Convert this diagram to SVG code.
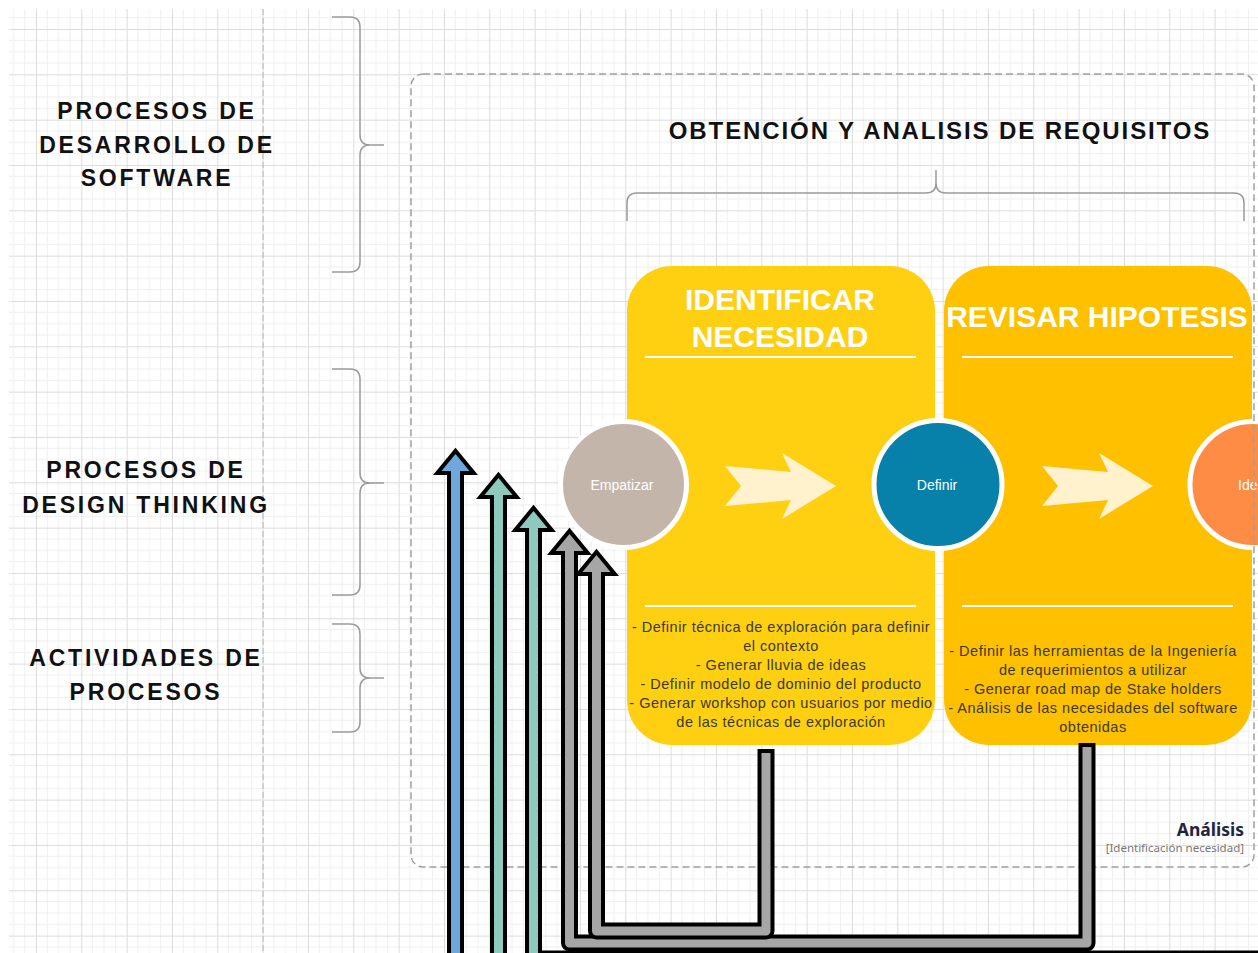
<svg xmlns="http://www.w3.org/2000/svg" width="1258" height="953" viewBox="0 0 1258 953">
<defs>
<pattern id="grid" patternUnits="userSpaceOnUse" x="36" y="29" width="45.33" height="45.33">
<path d="M11.33,0V45.33M22.67,0V45.33M34,0V45.33M0,11.33H45.33M0,22.67H45.33M0,34H45.33" stroke="#efefef" stroke-width="1" fill="none"/>
<path d="M0.5,0V45.33M0,0.5H45.33" stroke="#dcdcdc" stroke-width="1" fill="none"/>
</pattern>
<style>
.hdr{font-family:"Liberation Sans",Arial,sans-serif;font-weight:bold;font-size:23px;letter-spacing:2.8px;fill:#111;text-anchor:middle}
.ttl{font-family:"Liberation Sans",Arial,sans-serif;font-weight:bold;font-size:30px;fill:#fff;text-anchor:middle}
.act{font-family:"Liberation Sans",Arial,sans-serif;font-size:14.5px;letter-spacing:0.5px;fill:#3a3a2a;text-anchor:middle}
.circ{font-family:"Liberation Sans",Arial,sans-serif;font-size:14px;fill:#fff;text-anchor:middle}
.brace{fill:none;stroke:#9a9a9a;stroke-width:1.5}
.sep{stroke:#fff;stroke-width:2}
.chev{fill:#fff2cc}
.blk{fill:none;stroke:#000;stroke-width:17;stroke-linejoin:round}
.hb{fill:#000;stroke:#000;stroke-width:8;stroke-linejoin:miter}
.col{fill:none;stroke-width:9;stroke-linejoin:round}
</style>
</defs>
<rect x="0" y="0" width="1258" height="953" fill="#fff"/>
<rect x="9" y="9" width="1249" height="944" fill="url(#grid)"/>
<line x1="263" y1="9" x2="263" y2="953" stroke="#b5b5b5" stroke-width="1" stroke-dasharray="6 3"/>

<g id="hdr-desarrollo">
<text class="hdr" x="157" y="119">PROCESOS DE</text>
<text class="hdr" x="157" y="153">DESARROLLO DE</text>
<text class="hdr" x="157" y="186">SOFTWARE</text>
<path class="brace" d="M332,17H350Q360,17 360,27V135Q360,145 370,145H384M370,145Q360,145 360,155V262Q360,272 350,272H332"/>
</g>
<g id="hdr-design">
<text class="hdr" x="146" y="478">PROCESOS DE</text>
<text class="hdr" x="146" y="513">DESIGN THINKING</text>
<path class="brace" d="M332,369H350Q360,369 360,379V473Q360,483 370,483H384M370,483Q360,483 360,493V585Q360,595 350,595H332"/>
</g>
<g id="hdr-actividades">
<text class="hdr" x="146" y="666">ACTIVIDADES DE</text>
<text class="hdr" x="146" y="700">PROCESOS</text>
<path class="brace" d="M332,624H350Q360,624 360,634V668Q360,678 370,678H384M370,678Q360,678 360,688V722Q360,732 350,732H332"/>
</g>

<g id="fase-obtencion">
<text x="940" y="139" font-family="'Liberation Sans',Arial,sans-serif" font-weight="bold" font-size="24" letter-spacing="1.9" fill="#111" text-anchor="middle">OBTENCIÓN Y ANALISIS DE REQUISITOS</text>
<path class="brace" d="M627,221V203Q627,193 637,193H926Q936,193 936,183V170M936,183Q936,193 946,193H1234Q1244,193 1244,203V221"/>
</g>

<g id="card-identificar">
<rect x="627" y="266" width="308" height="479" rx="45" ry="45" fill="#ffd012"/>
<text class="ttl" x="780" y="310">IDENTIFICAR</text>
<text class="ttl" x="780" y="347">NECESIDAD</text>
<line class="sep" x1="645" y1="357" x2="916" y2="357"/>
<line class="sep" x1="645" y1="606" x2="916" y2="606"/>
<text class="act" x="781" y="632">- Definir técnica de exploración para definir</text>
<text class="act" x="781" y="651">el contexto</text>
<text class="act" x="781" y="670">- Generar lluvia de ideas</text>
<text class="act" x="781" y="689">- Definir modelo de dominio del producto</text>
<text class="act" x="781" y="708">- Generar workshop con usuarios por medio</text>
<text class="act" x="781" y="727">de las técnicas de exploración</text>
</g>
<g id="card-revisar">
<rect x="944" y="266" width="308" height="479" rx="45" ry="45" fill="#ffc000"/>
<text class="ttl" x="1097" y="327">REVISAR HIPOTESIS</text>
<line class="sep" x1="962" y1="357" x2="1233" y2="357"/>
<line class="sep" x1="962" y1="606" x2="1233" y2="606"/>
<text class="act" x="1093" y="656">- Definir las herramientas de la Ingeniería</text>
<text class="act" x="1093" y="675">de requerimientos a utilizar</text>
<text class="act" x="1093" y="694">- Generar road map de Stake holders</text>
<text class="act" x="1093" y="713">- Análisis de las necesidades del software</text>
<text class="act" x="1093" y="732">obtenidas</text>
</g>

<g id="chevron-1"><polygon class="chev" points="725,466 791,472 782,453 836,486 782,519 791,500 725,506 741,486"/></g>
<g id="chevron-2"><polygon class="chev" points="1042,466 1108,472 1099,453 1153,486 1099,519 1108,500 1042,506 1058,486"/></g>

<g id="node-empatizar">
<circle cx="623.5" cy="484.5" r="63" fill="#c4b5aa" stroke="#fff" stroke-width="5"/>
<text class="circ" x="622" y="490">Empatizar</text>
</g>
<g id="node-definir">
<circle cx="938" cy="484.5" r="64" fill="#0780aa" stroke="#fff" stroke-width="5"/>
<text class="circ" x="937" y="490">Definir</text>
</g>
<g id="node-idear">
<circle cx="1253" cy="484.5" r="63" fill="#ff8c45" stroke="#fff" stroke-width="5"/>
<text class="circ" x="1238" y="490" style="text-anchor:start">Ide</text>
</g>

<g id="container-analisis">
<rect x="411" y="74" width="843" height="793" rx="12" ry="12" fill="none" stroke="#a0a0a0" stroke-width="1.5" stroke-dasharray="7 4"/>
<text x="1244" y="836" font-family="'Noto Sans','Open Sans',sans-serif" font-weight="bold" font-size="17.5" fill="#1f2740" text-anchor="end">Análisis</text>
<text x="1244" y="852" font-family="'Noto Sans','Open Sans',sans-serif" font-size="11.5" fill="#777" text-anchor="end">[Identificación necesidad]</text>
</g>

<g id="connectors">
<g id="arrow-1">
<path class="blk" d="M455.5,960V469"/>
<polygon class="hb" points="455.5,454 469.5,471 441.5,471"/>
<path class="col" stroke="#6fa8dc" d="M455.5,960V469"/>
<polygon fill="#6fa8dc" points="455.5,454 469.5,471 441.5,471"/>
</g>
<g id="arrow-2">
<path class="blk" d="M498.5,960V493"/>
<polygon class="hb" points="498.5,478 512.5,495 484.5,495"/>
<path class="col" stroke="#8ec9bd" d="M498.5,960V493"/>
<polygon fill="#8ec9bd" points="498.5,478 512.5,495 484.5,495"/>
</g>
<g id="arrow-3">
<path class="blk" d="M533.5,526V959H1300"/>
<polygon class="hb" points="533.5,511 547.5,528 519.5,528"/>
<path class="col" stroke="#8ec9bd" d="M533.5,526V959H1300"/>
<polygon fill="#8ec9bd" points="533.5,511 547.5,528 519.5,528"/>
</g>
<g id="arrow-4">
<path class="blk" d="M1087,743V943H569.5V549"/>
<polygon class="hb" points="569.5,534 583.5,551 555.5,551"/>
<path class="col" stroke="#a6a6a6" d="M1087,747V943H569.5V549"/>
<polygon fill="#a6a6a6" points="569.5,534 583.5,551 555.5,551"/>
</g>
<g id="arrow-5">
<path class="blk" d="M766,749V931H596.5V570"/>
<polygon class="hb" points="596.5,555 610.5,572 582.5,572"/>
<path class="col" stroke="#a6a6a6" d="M766,753V931H596.5V570"/>
<polygon fill="#a6a6a6" points="596.5,555 610.5,572 582.5,572"/>
</g>
</g>
</svg>
